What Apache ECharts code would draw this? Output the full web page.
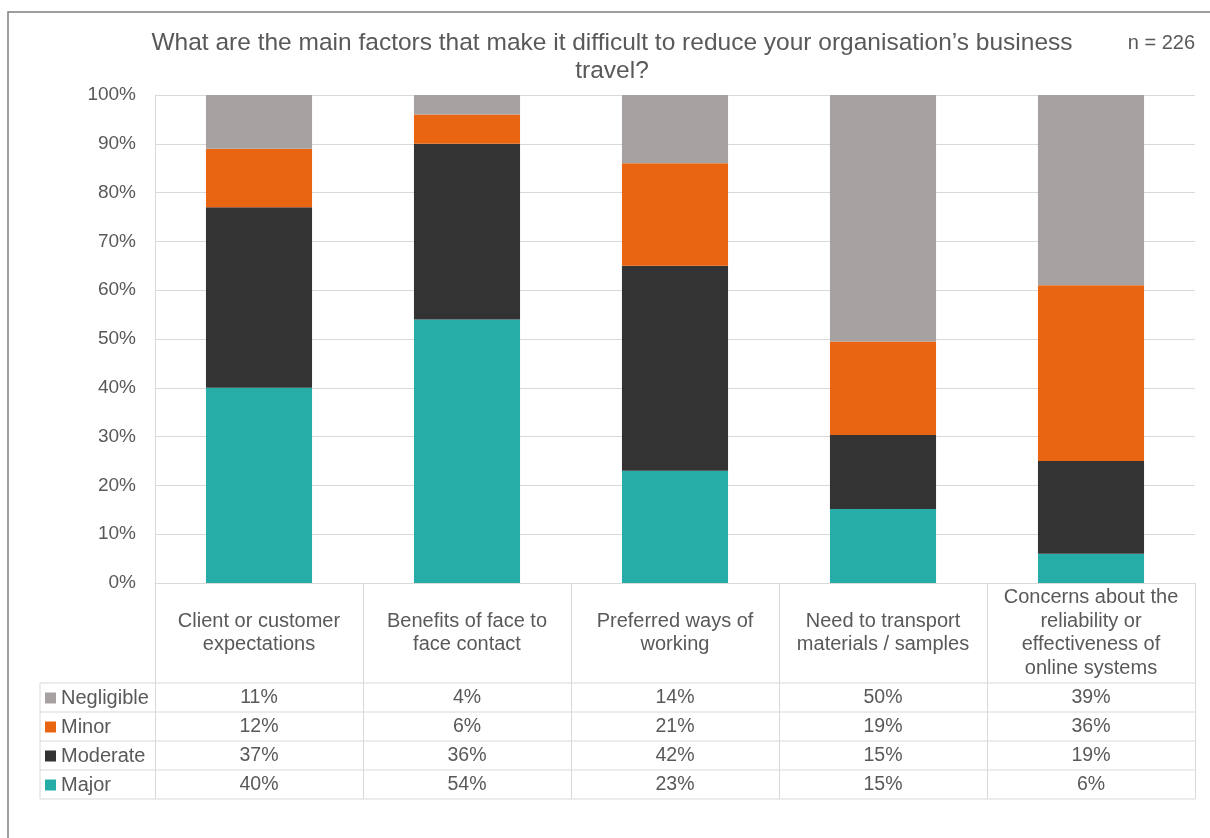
<!DOCTYPE html>
<html>
<head>
<meta charset="utf-8">
<title>Business travel barriers</title>
<script src="https://cdn.jsdelivr.net/npm/echarts@6/dist/echarts.min.js"></script>
<style>
  html, body { margin: 0; padding: 0; background: #ffffff; }
  #chart { width: 1210px; height: 838px; }
</style>
</head>
<body>
<div id="chart"></div>
<script>
// Survey factors (x categories) and the share of answers per rating
const categories = [
  'Client or customer\nexpectations',
  'Benefits of face to\nface contact',
  'Preferred ways of\nworking',
  'Need to transport\nmaterials / samples',
  'Concerns about the\nreliability or\neffectiveness of\nonline systems'
];
const major = [40, 54, 23, 15, 6];
const moderate = [37, 36, 42, 15, 19];
const minor = [12, 6, 21, 19, 36];
const negligible = [11, 4, 14, 50, 39];

const ratingNames = ['Major', 'Moderate', 'Minor', 'Negligible'];
const ratingColors = ['#26ada8', '#333333', '#e96512', '#a6a2a1'];
const tableRowOrder = ['Negligible', 'Minor', 'Moderate', 'Major'];

const chartTitle = 'What are the main factors that make it difficult to reduce your organisation\u2019s business\ntravel?';
const sampleNote = 'n = 226';
const yTickStep = 10;

const FONT = '"Liberation Sans", Arial, sans-serif';
const TEXT = '#595959';
const RULE = '#d9d9d9';

const ratingValues = { Major: major, Moderate: moderate, Minor: minor, Negligible: negligible };

// Each column is stacked to 100%: shares are the answers over the column total
const totals = categories.map((_, i) => ratingNames.reduce((s, n) => s + ratingValues[n][i], 0));
const share = arr => arr.map((v, i) => v / totals[i] * 100);

// Layout of the plot and of the data table underneath it
const plot = { left: 155, right: 15, top: 95, bottom: 255 };
const table = { left: 40, headerBottom: 683, rowH: 29 };
const axisY = 838 - plot.bottom;
const rightX = 1210 - plot.right;

const chart = echarts.init(document.getElementById('chart'), null, { renderer: 'canvas' });

// Category axis (bars + header row) followed by one label-only axis per table row
const xAxes = [{
  type: 'category',
  data: categories,
  axisLine: { show: true, lineStyle: { color: RULE, width: 1 } },
  axisTick: { show: true, interval: 0, length: table.headerBottom - axisY + table.rowH * 4, lineStyle: { color: RULE, width: 1 } },
  axisLabel: {
    interval: 0, color: TEXT, fontFamily: FONT, fontSize: 20, lineHeight: 23.5,
    verticalAlign: 'middle', margin: (table.headerBottom - axisY) / 2
  },
  splitLine: { show: false }
}];
tableRowOrder.forEach((name, r) => {
  xAxes.push({
    type: 'category',
    gridIndex: 0,
    position: 'bottom',
    data: ratingValues[name].map(v => v + '%'),
    axisLine: { show: false },
    axisTick: { show: false },
    splitLine: { show: false },
    axisLabel: {
      interval: 0, color: TEXT, fontFamily: FONT, fontSize: 19.5,
      verticalAlign: 'middle',
      margin: table.headerBottom - axisY + table.rowH * (r + 0.5)
    }
  });
});

// Table rules to the left of the plot plus the horizontal row lines
const tableGraphics = [];
for (let r = 0; r <= 4; r++) {
  const y = table.headerBottom + table.rowH * r;
  tableGraphics.push({
    type: 'line', silent: true,
    shape: { x1: table.left, y1: y, x2: rightX, y2: y },
    style: { stroke: RULE, lineWidth: 1 }
  });
}
tableGraphics.push({
  type: 'line', silent: true,
  shape: { x1: table.left, y1: table.headerBottom, x2: table.left, y2: table.headerBottom + table.rowH * 4 },
  style: { stroke: RULE, lineWidth: 1 }
});
// Frame around the whole chart
tableGraphics.push({
  type: 'rect', silent: true, z: -1,
  shape: { x: 8, y: 12, width: 1220, height: 860 },
  style: { fill: 'none', stroke: '#7f7f7f', lineWidth: 1.5 }
});

const option = {
  backgroundColor: '#ffffff',
  animation: false,
  textStyle: { fontFamily: FONT },
  title: [
    {
      text: chartTitle,
      left: 612, top: 29, textAlign: 'center', padding: 0,
      textStyle: { color: TEXT, fontFamily: FONT, fontSize: 24.5, fontWeight: 'normal', lineHeight: 28 }
    },
    {
      text: sampleNote,
      right: 15, top: 33, padding: 0,
      textStyle: { color: TEXT, fontFamily: FONT, fontSize: 20, fontWeight: 'normal' }
    }
  ],
  legend: {
    data: tableRowOrder,
    orient: 'vertical',
    left: 45, top: table.headerBottom + 5,
    padding: 0,
    itemWidth: 11, itemHeight: 11,
    itemGap: 9,
    icon: 'rect',
    selectedMode: false,
    textStyle: { color: TEXT, fontFamily: FONT, fontSize: 20, lineHeight: 20 }
  },
  grid: { left: plot.left, right: plot.right, top: plot.top, bottom: plot.bottom, containLabel: false },
  xAxis: xAxes,
  yAxis: {
    type: 'value',
    min: 0, max: 100, interval: yTickStep,
    axisLine: { show: true, lineStyle: { color: RULE, width: 1 } },
    axisTick: { show: false },
    axisLabel: { color: TEXT, fontFamily: FONT, fontSize: 19, margin: 19, formatter: '{value}%' },
    splitLine: { show: true, lineStyle: { color: RULE, width: 1 } }
  },
  series: ratingNames.map((name, k) => ({
    name: name,
    type: 'bar',
    stack: 'total',
    xAxisIndex: 0,
    barWidth: '51%',
    itemStyle: { color: ratingColors[k] },
    data: share(ratingValues[name])
  })),
  graphic: tableGraphics
};

chart.setOption(option);
</script>
</body>
</html>
